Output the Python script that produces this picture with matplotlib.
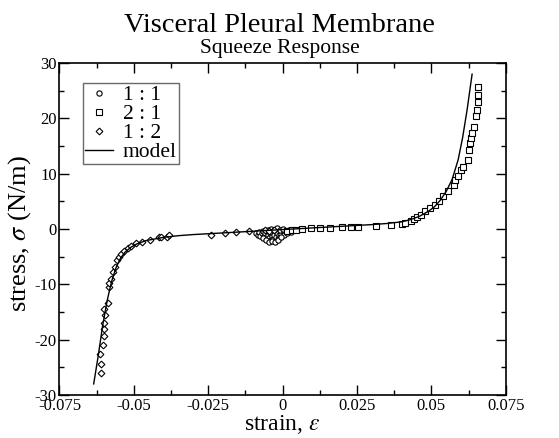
import matplotlib
matplotlib.use("Agg")
import matplotlib.pyplot as plt
from matplotlib.ticker import FixedLocator, FixedFormatter, MultipleLocator

plt.rcParams['font.family'] = ['Liberation Serif', 'DejaVu Serif']
plt.rcParams['mathtext.fontset'] = 'stix'
plt.rcParams['axes.unicode_minus'] = False

# ---- data ----
circles_x = [-0.0090, -0.0084, -0.0080, -0.0075, -0.0070, -0.0066, -0.0062, -0.0058, -0.0055, -0.0052,
             -0.0048, -0.0045, -0.0042, -0.0040, -0.0037, -0.0034, -0.0031, -0.0028, -0.0025, -0.0022,
             -0.0019, -0.0016, -0.0013, -0.0010, -0.0007, -0.0004, 0.0000, 0.0005, 0.0010, 0.0016,
             0.0022, 0.0028, -0.0065, -0.0055, -0.0045, -0.0035, -0.0025, -0.0015, -0.0005, -0.0050,
             -0.0040, -0.0030, -0.0020, -0.0010, 0.0002]
circles_y = [-0.7, -1.0, -0.5, -1.2, -0.8, -0.3, -1.3, -0.7, -1.5, -0.4,
             -1.1, -1.7, -0.8, -2.0, -1.3, -0.5, -1.8, -1.0, -2.2, -1.5,
             -0.7, -1.8, -1.1, -1.4, -0.5, -0.9, -0.3, -1.0, -0.4, -0.8,
             -0.2, -0.5, -1.6, -1.9, -2.3, -2.1, -2.4, -1.9, -1.5, -0.2,
             0.0, -0.1, 0.1, -0.1, 0.0]

squares_x = [0.0015, 0.0030, 0.0045, 0.0065, 0.0095, 0.0125, 0.0160, 0.0200, 0.0230, 0.0252,
             0.0315, 0.0365, 0.0400, 0.0411, 0.0432, 0.0443, 0.0453, 0.0464, 0.0480, 0.0496,
             0.0512, 0.0526, 0.0538, 0.0557, 0.0575, 0.0581, 0.0590, 0.0598, 0.0608, 0.0622,
             0.0628, 0.0630, 0.0632, 0.0636, 0.0642, 0.0650, 0.0652, 0.0658, 0.0656, 0.0656]
squares_y = [-0.3, -0.2, -0.1, 0.0, 0.1, 0.1, 0.2, 0.3, 0.3, 0.4,
             0.6, 0.7, 0.9, 1.1, 1.5, 1.8, 2.1, 2.5, 3.2, 3.8,
             4.4, 5.1, 5.9, 6.9, 7.9, 8.9, 9.5, 10.6, 11.3, 12.5,
             14.3, 15.5, 16.5, 17.4, 18.4, 20.5, 21.6, 22.9, 24.3, 25.6]

diamonds_x = [-0.0610, -0.0610, -0.0613, -0.0604, -0.0601, -0.0602, -0.0600, -0.0597, -0.0599, -0.0587,
              -0.0582, -0.0584, -0.0577, -0.0569, -0.0563, -0.0556, -0.0550, -0.0543, -0.0534, -0.0521,
              -0.0510, -0.0493, -0.0473, -0.0445, -0.0414, -0.0409, -0.0388, -0.0382, -0.0241, -0.0194,
              -0.0158, -0.0112, -0.0060, -0.0045, -0.0030]
diamonds_y = [-26.0, -24.4, -22.6, -21.0, -19.4, -18.1, -16.9, -15.6, -14.4, -13.3,
              -10.5, -9.7, -9.1, -7.7, -6.8, -5.6, -5.1, -4.5, -4.0, -3.4,
              -3.0, -2.5, -2.3, -2.0, -1.5, -1.4, -1.4, -1.1, -1.1, -0.7,
              -0.5, -0.3, -0.2, -0.3, -0.2]

model_x = [-0.0635, -0.0620, -0.0605, -0.0590, -0.0575, -0.0560, -0.0545, -0.0530, -0.0510, -0.0490,
           -0.0460, -0.0430, -0.0400, -0.0350, -0.0300, -0.0200, -0.0100, 0.0000, 0.0100, 0.0200,
           0.0300, 0.0350, 0.0400, 0.0430, 0.0460, 0.0490, 0.0510, 0.0530, 0.0550, 0.0570,
           0.0590, 0.0605, 0.0620, 0.0637]
model_y = [-28.0, -23.0, -17.5, -13.0, -9.5, -7.0, -5.3, -4.2, -3.3, -2.7,
           -2.1, -1.8, -1.5, -1.2, -1.0, -0.7, -0.4, -0.1, 0.2, 0.5,
           0.8, 1.0, 1.3, 1.7, 2.3, 3.2, 4.0, 5.2, 6.8, 9.0,
           12.5, 16.5, 21.5, 28.0]

x_ticks = [-0.075, -0.05, -0.025, 0, 0.025, 0.05, 0.075]
x_ticklabels = ["-0.075", "-0.05", "-0.025", "0", "0.025", "0.05", "0.075"]
y_ticks = [-30, -20, -10, 0, 10, 20, 30]
y_ticklabels = ["-30", "-20", "-10", "0", "10", "20", "30"]

# ---- figure ----
fig = plt.figure(figsize=(5.59, 4.38), dpi=100)
ax = fig.add_axes([0.1064, 0.0982, 0.7983, 0.7578])

ms = 3.8
ax.plot(circles_x, circles_y, linestyle='none', marker='o', ms=ms, mfc='white', mec='black', mew=0.8, label='1 : 1')
ax.plot(squares_x, squares_y, linestyle='none', marker='s', ms=ms, mfc='white', mec='black', mew=0.8, label='2 : 1')
ax.plot(diamonds_x, diamonds_y, linestyle='none', marker='D', ms=ms*0.9, mfc='white', mec='black', mew=0.8, label='1 : 2')
ax.plot(model_x, model_y, color='black', lw=1.0, label='model')

ax.set_xlim(-0.075, 0.075)
ax.set_ylim(-30, 30)
ax.xaxis.set_major_locator(FixedLocator(x_ticks))
ax.xaxis.set_major_formatter(FixedFormatter(x_ticklabels))
ax.yaxis.set_major_locator(FixedLocator(y_ticks))
ax.yaxis.set_major_formatter(FixedFormatter(y_ticklabels))
ax.xaxis.set_minor_locator(MultipleLocator(0.0125))
ax.yaxis.set_minor_locator(MultipleLocator(5))
ax.tick_params(which='both', direction='in', top=True, right=True, labelsize=12, width=1.0, pad=2)
ax.tick_params(which='major', length=7)
ax.tick_params(which='minor', length=3.5)
for s in ax.spines.values():
    s.set_linewidth(1.2)

leg = ax.legend(loc='upper left', bbox_to_anchor=(0.052, 0.94), fontsize=15.5, frameon=True, fancybox=False,
                edgecolor='#444444', handlelength=1.3, handletextpad=0.45, borderpad=0.1,
                labelspacing=-0.05, borderaxespad=0.0, markerscale=1.0)
leg.get_frame().set_linewidth(1.0)

fig.text(0.5, 1 - 32/438, "Visceral Pleural Membrane", ha='center', va='baseline', fontsize=20.5)
fig.text(0.5, 1 - 53/438, "Squeeze Response", ha='center', va='baseline', fontsize=15.5)
fig.text(282.6/559, 1 - 430/438, r"strain, $\varepsilon$", ha='center', va='baseline', fontsize=17)
fig.text(20/559, 1 - 234/438, r"stress, $\sigma$ (N/m)", ha='center', va='center', rotation=90, fontsize=19)

fig.savefig("out.png", dpi=100)
